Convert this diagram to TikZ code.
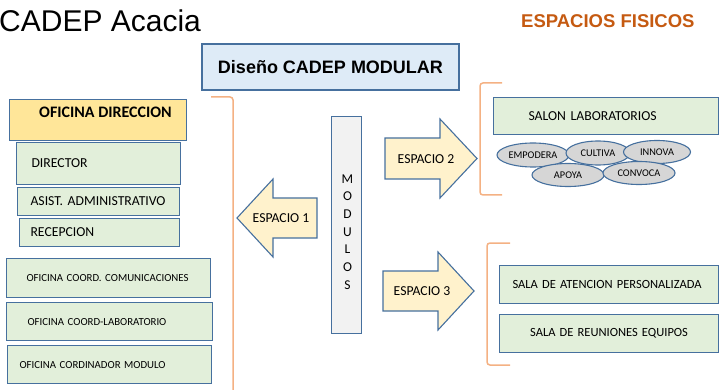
\documentclass[tikz,border=0pt]{standalone}
\usepackage{fontspec}
\setmainfont{Carlito}
\newfontfamily\arialfont{Liberation Sans}
\usetikzlibrary{shapes.geometric}
\frenchspacing
\definecolor{linea}{RGB}{70,112,158}
\definecolor{verde}{RGB}{226,239,218}
\definecolor{oro}{RGB}{255,230,153}
\definecolor{crema}{RGB}{255,242,204}
\definecolor{celeste}{RGB}{222,235,247}
\definecolor{gris}{RGB}{242,242,242}
\definecolor{grisov}{RGB}{214,214,214}
\definecolor{naranja}{RGB}{244,177,131}
\definecolor{titnaranja}{RGB}{197,90,17}

\begin{document}
\begin{tikzpicture}[x=1pt, y=-1pt,
  caja/.style 2 args={draw=linea, line width=1.1pt, fill=verde, anchor=north west, inner xsep=0pt, inner ysep=0pt, align=left, text width=#1, minimum height=#2},
  ovalo/.style={ellipse, draw=linea, line width=1.1pt, fill=grisov, inner sep=0pt, font=\fontsize{10.3pt}{12pt}\selectfont},
  flecha/.style={draw=linea, line width=1.1pt, fill=crema, line join=miter},
  llave/.style={draw=naranja, line width=1.5pt, rounded corners=3pt},
  fa/.style={font=\fontsize{13.7pt}{16pt}\selectfont},
  fb/.style={font=\fontsize{10.8pt}{13pt}\selectfont},
  fc/.style={font=\fontsize{12.5pt}{15pt}\selectfont}]
	\useasboundingbox (0,0) rectangle (720,390);
	\node[anchor=base west, inner sep=0pt, font=\arialfont\fontsize{30pt}{36pt}\selectfont] (titulo) at (-1,32) {CADEP Acacia};
	\node[anchor=base west, inner sep=0pt, text=titnaranja, font=\arialfont\bfseries\fontsize{18.5pt}{22pt}\selectfont] (espacios) at (521,28) {ESPACIOS FISICOS};
	\node[draw=linea, line width=1.1pt, fill=celeste, minimum width=257pt, minimum height=46pt, font=\arialfont\bfseries\fontsize{18pt}{22pt}\selectfont] (diseno) at (330.5,67) {Diseño CADEP MODULAR};
	\draw[llave] (211,97) -- (233,97) -- (233,395);
	\node[caja={177pt}{41pt}, fill=oro] (direccion) at (9,99) {};
	\node[font=\bfseries\fontsize{16pt}{19pt}\selectfont] (dirtxt) at (105.5,112) {OFICINA DIRECCION};
	\node[caja={164pt}{42pt}, fa] (director) at (16,142) {\hspace*{15pt}DIRECTOR};
	\node[caja={162pt}{28pt}, fa] (asist) at (17,187) {\hspace*{13pt}ASIST. ADMINISTRATIVO};
	\node[caja={160pt}{28pt}, fa] (recepcion) at (19,218) {\hspace*{11pt}RECEPCION};
	\node[caja={204pt}{39pt}, fb] (comunic) at (6,258) {\hspace*{20pt}OFICINA COORD. COMUNICACIONES};
	\node[caja={206pt}{38pt}, fb] (coordlab) at (6,302) {\hspace*{21pt}OFICINA COORD-LABORATORIO};
	\node[caja={204pt}{38pt}, fb] (coordmod) at (7,345) {\hspace*{12pt}OFICINA CORDINADOR MODULO};
	\node[caja={30pt}{217pt}, fill=gris] (modulos) at (331,116) {};
	\node[align=center, font=\fontsize{13.5pt}{17.7pt}\selectfont] (modtxt) at (347.5,232) {M\\O\\D\\U\\L\\O\\S};
	\draw[flecha] (237,218) -- (273,179) -- (273,198) -- (317,198) -- (317,238) -- (273,238) -- (273,257) -- cycle;
	\node[fa] (esp1) at (281,218) {ESPACIO 1};
	\draw[flecha] (385,138) -- (440,138) -- (440,119) -- (477,158.5) -- (440,198) -- (440,179) -- (385,179) -- cycle;
	\node[fa] (esp2) at (426,159) {ESPACIO 2};
	\draw[flecha] (383,271) -- (438,271) -- (438,252) -- (474,291) -- (438,330) -- (438,311) -- (383,311) -- cycle;
	\node[fa] (esp3) at (422,291) {ESPACIO 3};
	\draw[llave] (502,83) -- (480,83) -- (480,195) -- (502,195);
	\node[caja={225pt}{37pt}, fa] (salon) at (493,97) {\hspace*{35pt}SALON LABORATORIOS};
	\node[ovalo, minimum width=72pt, minimum height=24pt] (empodera) at (533,155) {EMPODERA};
	\node[ovalo, minimum width=64pt, minimum height=24pt] (cultiva) at (598,153) {CULTIVA};
	\node[ovalo, minimum width=67pt, minimum height=23pt] (innova) at (657,152) {INNOVA};
	\node[ovalo, minimum width=72pt, minimum height=23pt] (apoya) at (568,175) {APOYA};
	\node[ovalo, minimum width=72pt, minimum height=23pt] (convoca) at (639,173) {CONVOCA};
	\draw[llave] (510,243) -- (487,243) -- (487,365) -- (510,365);
	\node[caja={219pt}{38pt}, fc] (atencion) at (499,265) {\hspace*{13pt}SALA DE ATENCION PERSONALIZADA};
	\node[caja={219pt}{38pt}, fc, align=center] (reuniones) at (499,314) {SALA DE REUNIONES EQUIPOS};
\end{tikzpicture}
\end{document}
